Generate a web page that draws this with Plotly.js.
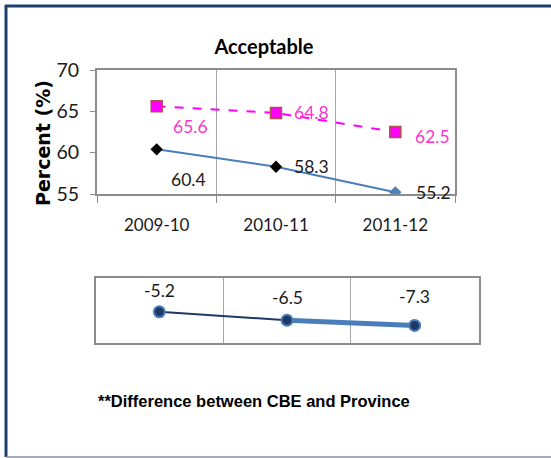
<!DOCTYPE html>
<html>
<head>
<meta charset="utf-8">
<script src="https://cdn.plot.ly/plotly-3.0.1.min.js"></script>
<style>html,body{margin:0;padding:0;background:#fff;}</style>
</head>
<body>
<div id="chart" style="width:551px;height:458px;"></div>
<script>
// ---- data ----
var years = ["2009-10", "2010-11", "2011-12"];
var cbe = [60.4, 58.3, 55.2];
var province = [65.6, 64.8, 62.5];
var difference = [-5.2, -6.5, -7.3];
var chartTitle = "Acceptable";
var yTitle = "Percent (%)";
var footnote = "**Difference between CBE and Province";

// ---- styles (separate from data) ----
var cbeLabelShift = [[32, -30], [35, 0], [38, 0]];
var provLabelShift = [[34, -20], [35, 0], [37, -4]];
var diffLabelShift = [21, 23, 29];
var lblFont = {family: "Lato, sans-serif", size: 17.5, color: "#1a1a1a"};

var W = 551, H = 458;
function px(x){return x / W;}
function py(y){return 1 - y / H;}

var traces = [
  {x: years, y: province, type: "scatter", mode: "lines+markers", xaxis: "x", yaxis: "y",
   line: {color: "#ff00ff", width: 2, dash: "dash"},
   marker: {symbol: "square", size: 11, color: "#ff00ff", line: {color: "#b0504d", width: 1.5}},
   hoverinfo: "none"},
  {x: years, y: cbe, type: "scatter", mode: "lines+markers", xaxis: "x", yaxis: "y",
   line: {color: "#4a7ebb", width: 2},
   marker: {symbol: "diamond", size: 9.5, color: ["#000000", "#000000", "#4f81bd"]},
   hoverinfo: "none"},
  {x: years.slice(0, 2), y: difference.slice(0, 2), type: "scatter", mode: "lines", xaxis: "x2", yaxis: "y2",
   line: {color: "#1f3864", width: 2}, hoverinfo: "none"},
  {x: years.slice(1), y: difference.slice(1), type: "scatter", mode: "lines", xaxis: "x2", yaxis: "y2",
   line: {color: "#4a7ebb", width: 5}, hoverinfo: "none"},
  {x: years, y: difference, type: "scatter", mode: "markers", xaxis: "x2", yaxis: "y2",
   marker: {symbol: "circle", size: 11, color: "#1f3864", line: {color: "#4a7ebb", width: 2}},
   hoverinfo: "none"}
];

var annotations = [];
for (var i = 0; i < years.length; i++) {
  annotations.push({x: years[i], y: cbe[i], xref: "x", yref: "y", text: cbe[i].toFixed(1),
    showarrow: false, xshift: cbeLabelShift[i][0], yshift: cbeLabelShift[i][1], font: lblFont});
  annotations.push({x: years[i], y: province[i], xref: "x", yref: "y", text: province[i].toFixed(1),
    showarrow: false, xshift: provLabelShift[i][0], yshift: provLabelShift[i][1],
    font: {family: "Lato, sans-serif", size: 17.5, color: "#ff33cc"}});
  annotations.push({x: years[i], y: difference[i], xref: "x2", yref: "y2", text: difference[i].toFixed(1),
    showarrow: false, yshift: diffLabelShift[i], font: lblFont});
}
annotations.push({x: px(96), y: py(401), xref: "paper", yref: "paper", xanchor: "left", yanchor: "middle",
  text: footnote, showarrow: false,
  font: {family: "Liberation Sans, Arial, sans-serif", size: 16.5, color: "#000", weight: "bold"}});
annotations.push({x: px(43), y: py(143), xref: "paper", yref: "paper", xanchor: "center", yanchor: "middle",
  text: yTitle, textangle: -90, showarrow: false,
  font: {family: "DejaVu Sans, sans-serif", size: 19, color: "#000", weight: "bold"}});

var gridC = "#a6a6a6", lineC = "#8c8c8c";
var layout = {
  width: W, height: H,
  margin: {l: 0, r: 0, t: 0, b: 0},
  paper_bgcolor: "#ffffff", plot_bgcolor: "#ffffff",
  showlegend: false,
  title: {text: chartTitle, x: px(264), y: py(47), xref: "paper", yref: "paper", xanchor: "center", yanchor: "middle",
    font: {family: "Lato, sans-serif", size: 20, color: "#000", weight: "bold"}},
  xaxis: {domain: [px(97), px(455)], type: "category", range: [-0.5, 2.5], anchor: "y",
    tickson: "boundaries", showgrid: true, gridcolor: gridC, gridwidth: 1,
    showline: true, linecolor: lineC, linewidth: 2, mirror: true,
    ticks: "outside", ticklen: 7, tickcolor: lineC, tickwidth: 1,
    ticklabelstandoff: 15,
    tickfont: {family: "Lato, sans-serif", size: 17, color: "#1a1a1a"}, fixedrange: true},
  yaxis: {domain: [py(194), py(70)], range: [55, 70], dtick: 5, anchor: "x",
    showgrid: false, zeroline: false,
    showline: true, linecolor: lineC, linewidth: 2, mirror: true,
    ticks: "outside", ticklen: 5, tickcolor: lineC, tickwidth: 1,
    ticklabelstandoff: 7,
    tickfont: {family: "Lato, sans-serif", size: 19.5, color: "#1a1a1a"}, fixedrange: true},
  xaxis2: {domain: [px(95.5), px(478.5)], type: "category", range: [-0.5, 2.5], anchor: "y2",
    tickson: "boundaries", showgrid: true, gridcolor: gridC, gridwidth: 1,
    showline: true, linecolor: lineC, linewidth: 2, mirror: true,
    ticks: "", showticklabels: false, fixedrange: true},
  yaxis2: {domain: [py(343), py(278)], range: [-10, 0], anchor: "x2",
    showgrid: false, zeroline: false,
    showline: true, linecolor: lineC, linewidth: 2, mirror: true,
    ticks: "", showticklabels: false, fixedrange: true},
  annotations: annotations,
  shapes: [
    {type: "line", xref: "paper", yref: "paper", x0: px(5), x1: 1.01, y0: py(6), y1: py(6), line: {color: "#1f3f6e", width: 3}},
    {type: "line", xref: "paper", yref: "paper", x0: px(6), x1: px(6), y0: py(5), y1: py(457), line: {color: "#1f3f6e", width: 3}},
    {type: "line", xref: "paper", yref: "paper", x0: px(6), x1: 1.01, y0: py(457), y1: py(457), line: {color: "#8a90a0", width: 1.5}}
  ]
};

Plotly.newPlot("chart", traces, layout, {displayModeBar: false, staticPlot: true});
</script>
</body>
</html>
